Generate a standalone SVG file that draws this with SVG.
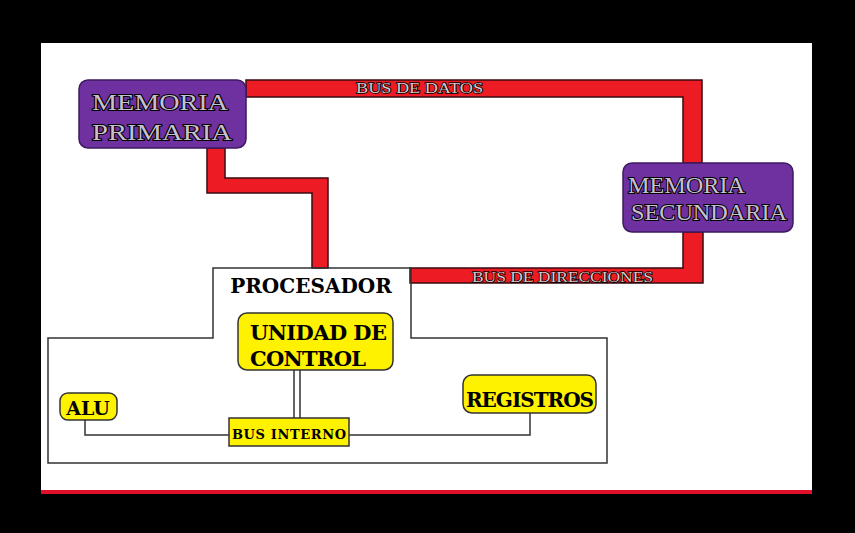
<svg xmlns="http://www.w3.org/2000/svg" width="855" height="533" viewBox="0 0 855 533">
<style>
.bus{fill:#ed1c24;stroke:#3a0a10;stroke-width:1.5}
.mem{fill:#6f31a0;stroke:#3d1a60;stroke-width:1.5}
.memt{font-family:"Liberation Serif",serif;font-size:24px;fill:#c8c0d0;stroke:#000;stroke-width:2;paint-order:stroke}
.yel{fill:#fff200;stroke:#333;stroke-width:1.5}
.t{font-family:"DejaVu Serif","Liberation Serif",serif;font-weight:bold;fill:#000}
.busl{font-family:"Liberation Serif",serif;font-size:14px;fill:#d8c8c8;stroke:#000;stroke-width:1.4;paint-order:stroke}
.ln{fill:none;stroke:#333;stroke-width:1.5}
</style>
<rect x="0" y="0" width="855" height="533" fill="#000"/>
<rect x="41" y="43" width="771" height="449" fill="#fff"/>
<rect x="41" y="490" width="771" height="4" fill="#e0102a"/>
<g id="connectors">
<path class="bus" d="M246,80 H702 V163 H683 V97 H246 Z"/>
<path class="bus" d="M683,232 H703 V283 H410 V268 H683 Z"/>
<path class="bus" d="M207,148 H225 V178 H328 V268 H312 V193 H207 Z"/>
<path class="ln" d="M85,420 V435 H229"/>
<path class="ln" d="M349,435 H530 V413"/>
<path class="ln" d="M294,370 V418 M300,370 V418"/>
<text class="busl" x="356" y="93" textLength="127" lengthAdjust="spacingAndGlyphs">BUS DE DATOS</text>
<text class="busl" x="472" y="282" textLength="181" lengthAdjust="spacingAndGlyphs">BUS DE DIRECCIONES</text>
</g>
<g id="procesador">
<path class="ln" d="M213,338 V268 H411 V338 H607 V463 H48 V338 Z"/>
<text class="t" x="311" y="293" font-size="20" text-anchor="middle">PROCESADOR</text>
</g>
<g id="memoria-primaria">
<rect class="mem" x="79" y="80" width="167" height="68" rx="9"/>
<text class="memt" x="92" y="110" textLength="136" lengthAdjust="spacingAndGlyphs">MEMORIA</text>
<text class="memt" x="92" y="140" textLength="140" lengthAdjust="spacingAndGlyphs">PRIMARIA</text>
</g>
<g id="memoria-secundaria">
<rect class="mem" x="623" y="163" width="170" height="69" rx="9"/>
<text class="memt" x="628" y="193" textLength="117" lengthAdjust="spacingAndGlyphs">MEMORIA</text>
<text class="memt" x="631" y="220" textLength="156" lengthAdjust="spacingAndGlyphs">SECUNDARIA</text>
</g>
<g id="unidad-control">
<rect class="yel" x="238" y="313" width="155" height="57" rx="9"/>
<text class="t" x="250" y="340" font-size="21" textLength="137">UNIDAD DE</text>
<text class="t" x="250" y="366" font-size="21" textLength="116">CONTROL</text>
</g>
<g id="alu">
<rect class="yel" x="60" y="393" width="57" height="27" rx="8"/>
<text class="t" x="88" y="415" font-size="19" text-anchor="middle">ALU</text>
</g>
<g id="registros">
<rect class="yel" x="463" y="375" width="133" height="38" rx="9"/>
<text class="t" x="466" y="407" font-size="20" textLength="128">REGISTROS</text>
</g>
<g id="bus-interno">
<rect class="yel" x="229" y="418" width="120" height="28"/>
<text class="t" x="289" y="439" font-size="13" text-anchor="middle" textLength="114">BUS INTERNO</text>
</g>
</svg>
